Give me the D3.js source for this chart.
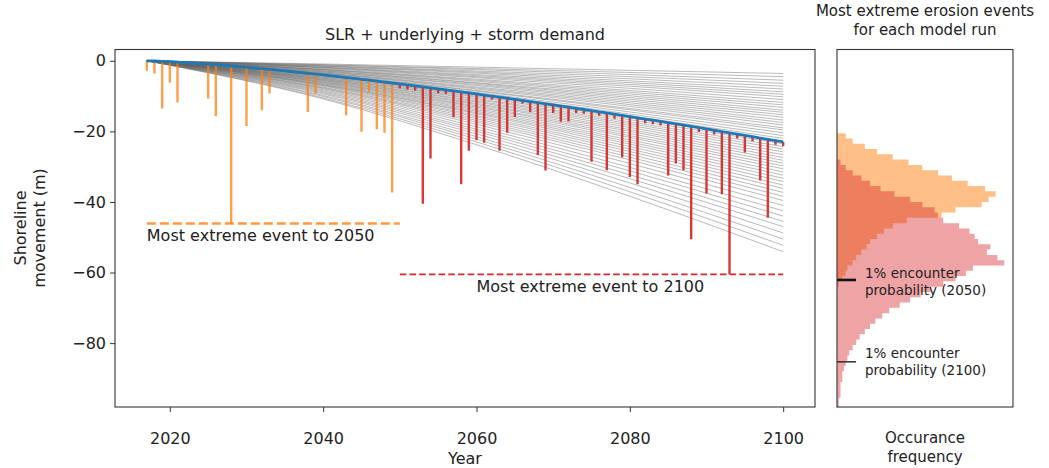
<!DOCTYPE html>
<html><head><meta charset="utf-8">
<script src="https://cdn.jsdelivr.net/npm/d3@7"></script>
<style>body{margin:0;background:#fff} svg{display:block} text{font-family:"DejaVu Sans",sans-serif;fill:#222}</style>
</head><body><svg id="c" width="1049" height="468"></svg>
<script>
// ---------------- data ----------------
const trendStartYear = 2017;
const trend = [0,-0.06,-0.14,-0.25,-0.37,-0.50,-0.65,-0.80,-0.95,-1.12,-1.29,-1.47,-1.66,-1.85,-2.04,-2.24,-2.45,-2.66,-2.88,-3.10,
  -3.32,-3.55,-3.78,-4.02,-4.26,-4.50,-4.75,-5.00,-5.25,-5.50,-5.76,-6.02,-6.29,-6.56,-6.83,-7.11,-7.39,-7.67,-7.95,-8.23,
  -8.52,-8.81,-9.10,-9.40,-9.70,-10.00,-10.30,-10.61,-10.92,-11.23,-11.54,-11.86,-12.18,-12.50,-12.82,-13.15,-13.47,-13.80,-14.13,-14.46,
  -14.79,-15.13,-15.47,-15.81,-16.15,-16.50,-16.84,-17.19,-17.54,-17.89,-18.25,-18.60,-18.96,-19.32,-19.68,-20.04,-20.41,-20.77,-21.14,-21.51,
  -21.88,-22.25,-22.62,-23.00];

const events2050Years  = [2017,2018,2019,2020,2021,2025,2026,2028,2030,2032,2033,2038,2039,2043,2045,2046,2047,2048,2049];
const events2050Bottom = [-2.8,-3.6,-13.5,-6.2,-11.8,-10.7,-15.7,-46.1,-18.5,-14.0,-9.3,-14.5,-9.3,-15.4,-20.1,-8.8,-19.4,-20.4,-37.3];

const events2100Years  = [2050,2051,2052,2053,2054,2055,2056,2057,2058,2059,2060,2061,2062,2063,2064,2065,2066,2067,2068,2069,
  2070,2071,2072,2073,2074,2075,2076,2077,2078,2079,2080,2081,2082,2083,2084,2085,2086,2087,2088,2089,
  2090,2091,2092,2093,2094,2095,2096,2097,2098,2099,2100];
const events2100Bottom = [-7.8,-8.1,-8.5,-40.5,-27.7,-9.2,-9.4,-16.0,-35.0,-25.5,-22.5,-23.2,-11.0,-25.5,-20.4,-15.9,-12.1,-14.5,-26.7,-31.1,
  -14.8,-17.3,-17.2,-14.8,-15.0,-28.6,-15.6,-31.0,-16.4,-27.4,-32.9,-35.0,-17.7,-18.0,-18.3,-32.5,-29.1,-31.0,-50.6,-20.2,
  -37.6,-20.9,-37.8,-60.5,-22.0,-26.0,-22.8,-33.9,-44.5,-23.8,-24.2];

const runYears = [2017,2040,2060,2080,2100];
const runs = [
  [0,-0.9,-1.8,-2.7,-3.6],[0,-1.1,-2.2,-3.3,-4.5],[0,-1.2,-2.5,-3.9,-5.5],[0,-1.4,-2.9,-4.5,-6.4],
  [0,-1.5,-3.2,-5.1,-7.2],[0,-1.6,-3.5,-5.7,-8.0],[0,-1.8,-3.9,-6.2,-8.8],[0,-1.9,-4.2,-6.7,-9.5],
  [0,-2.0,-4.5,-7.2,-10.2],[0,-2.2,-4.8,-7.8,-11.0],[0,-2.4,-5.2,-8.4,-11.8],[0,-2.5,-5.5,-8.9,-12.5],
  [0,-2.6,-5.8,-9.4,-13.2],[0,-2.8,-6.2,-9.9,-14.0],[0,-2.9,-6.4,-10.4,-14.6],[0,-3.1,-6.7,-10.9,-15.3],
  [0,-3.2,-7.0,-11.4,-16.0],[0,-3.4,-7.4,-11.9,-16.8],[0,-3.5,-7.7,-12.4,-17.5],[0,-3.6,-8.0,-12.9,-18.2],
  [0,-3.8,-8.4,-13.5,-19.0],[0,-3.9,-8.6,-13.9,-19.6],[0,-4.1,-9.0,-14.5,-20.4],[0,-4.2,-9.3,-15.1,-21.2],
  [0,-4.4,-9.7,-15.6,-22.0],[0,-4.6,-10.0,-16.2,-22.8],[0,-4.7,-10.3,-16.7,-23.5],[0,-4.9,-10.7,-17.3,-24.3],
  [0,-5.0,-11.0,-17.8,-25.0],[0,-5.2,-11.4,-18.3,-25.8],[0,-5.3,-11.7,-18.9,-26.6],[0,-5.5,-12.1,-19.5,-27.4],
  [0,-5.6,-12.4,-20.0,-28.2],[0,-5.8,-12.8,-20.6,-29.0],[0,-6.0,-13.1,-21.2,-29.8],[0,-6.1,-13.5,-21.7,-30.6],
  [0,-6.3,-13.9,-22.4,-31.5],[0,-6.5,-14.3,-23.0,-32.4],[0,-6.7,-14.7,-23.6,-33.3],[0,-6.8,-15.0,-24.3,-34.2],
  [0,-7.0,-15.5,-25.0,-35.2],[0,-7.2,-15.9,-25.7,-36.2],[0,-7.5,-16.4,-26.5,-37.3],[0,-7.7,-16.9,-27.3,-38.4],
  [0,-7.9,-17.4,-28.1,-39.6],[0,-8.2,-18.0,-29.1,-41.0],[0,-8.5,-18.7,-30.2,-42.5],[0,-8.8,-19.4,-31.2,-44.0],
  [0,-9.1,-20.0,-32.3,-45.5],[0,-9.4,-20.7,-33.4,-47.0],[0,-9.8,-21.5,-34.6,-48.8],[0,-10.1,-22.2,-35.9,-50.5],
  [0,-10.5,-23.0,-37.1,-52.3],[0,-10.8,-23.8,-38.4,-54.1]
];

const extreme2050 = -46.1, extreme2100 = -60.5;

const histBinWidth = 1.5;
const hist2050Top = -20.5;
const hist2050Counts = [5,9,16,23,32,41,49,58,66,75,85,91,87,83,68,60,40,32,27,23,19,17,14,11,9,6,5,3,1];
const hist2100Top = -28;
const hist2100Counts = [2,5,9,14,19,25,33,42,49,56,58,61,70,76,79,81,88,86,92,96,78,74,68,61,54,48,42,36,30,26,22,19,16,13,11,9,7,6,5,4,3,3,2,2,2,1,1];
const encounter2050 = -62.1, encounter2100 = -85.3;

const xTicks = [2020,2040,2060,2080,2100];
const yTicks = [0,-20,-40,-60,-80];

// ---------------- drawing ----------------
const svg = d3.select("#c");
const M = {l:115, r:815, t:49.5, b:407};
const Hs = {l:837, r:1013};

const x = d3.scaleLinear().domain([2012.85, 2104.15]).range([M.l, M.r]);
const y = d3.scaleLinear().domain([-98.1, 3.2]).range([M.b, M.t]);
const xH = d3.scaleLinear().domain([0, 101]).range([Hs.l, Hs.r]);

const defs = svg.append("defs");
defs.append("clipPath").attr("id","clipMain").append("rect")
  .attr("x",M.l).attr("y",M.t).attr("width",M.r-M.l).attr("height",M.b-M.t);
defs.append("clipPath").attr("id","clipHist").append("rect")
  .attr("x",Hs.l).attr("y",M.t).attr("width",Hs.r-Hs.l).attr("height",M.b-M.t);

const main = svg.append("g").attr("clip-path","url(#clipMain)");

// model runs
const runLine = d3.line().x((d,i)=>x(runYears[i])).y(d=>y(d)).curve(d3.curveMonotoneX);
main.append("g").selectAll("path").data(runs).join("path")
  .attr("d", runLine).attr("fill","none").attr("stroke","#666")
  .attr("stroke-width",0.9).attr("stroke-opacity",0.5);

// event spikes
const trendAt = yr => trend[yr - trendStartYear];
main.append("g").selectAll("line").data(events2050Years).join("line")
  .attr("x1",d=>x(d)).attr("x2",d=>x(d))
  .attr("y1",d=>y(trendAt(d))).attr("y2",(d,i)=>y(events2050Bottom[i]))
  .attr("stroke","#ff7f0e").attr("stroke-opacity",0.75).attr("stroke-width",2.4);
main.append("g").selectAll("line").data(events2100Years).join("line")
  .attr("x1",d=>x(d)).attr("x2",d=>x(d))
  .attr("y1",d=>y(trendAt(d))).attr("y2",(d,i)=>y(events2100Bottom[i]))
  .attr("stroke","#d62728").attr("stroke-opacity",0.92).attr("stroke-width",2.4);

// trend line
main.append("path").datum(trend)
  .attr("d", d3.line().x((d,i)=>x(trendStartYear+i)).y(d=>y(d)))
  .attr("fill","none").attr("stroke","#1f77b4").attr("stroke-width",2.8);

// extreme dashed lines
main.append("line").attr("x1",x(2017)).attr("x2",x(2050))
  .attr("y1",y(extreme2050)).attr("y2",y(extreme2050))
  .attr("stroke","#ff7f0e").attr("stroke-opacity",0.8).attr("stroke-width",2.6).attr("stroke-dasharray","9,4");
main.append("line").attr("x1",x(2050)).attr("x2",x(2100))
  .attr("y1",y(extreme2100)).attr("y2",y(extreme2100))
  .attr("stroke","#d62728").attr("stroke-width",1.8).attr("stroke-dasharray","6.5,3.2");

svg.append("text").attr("x",x(2017)).attr("y",240.5).attr("font-size",16).text("Most extreme event to 2050");
svg.append("text").attr("x",476.5).attr("y",291.5).attr("font-size",16).text("Most extreme event to 2100");

// axes main
const ax = svg.append("g").attr("transform",`translate(0,${M.b})`)
  .call(d3.axisBottom(x).tickValues(xTicks).tickFormat(d3.format("d")).tickSize(5).tickPadding(21));
const ay = svg.append("g").attr("transform",`translate(${M.l},0)`)
  .call(d3.axisLeft(y).tickValues(yTicks).tickSize(5).tickPadding(4));
[ax,ay].forEach(g=>{
  g.select(".domain").remove();
  g.selectAll(".tick line").attr("stroke","#333").attr("stroke-width",1);
  g.selectAll(".tick text").attr("font-size",16).attr("font-family","DejaVu Sans").attr("fill","#222");
});
svg.append("rect").attr("x",M.l).attr("y",M.t).attr("width",M.r-M.l).attr("height",M.b-M.t)
  .attr("fill","none").attr("stroke","#333").attr("stroke-width",1.1);

svg.append("text").attr("x",(M.l+M.r)/2).attr("y",40).attr("text-anchor","middle").attr("font-size",16)
  .text("SLR + underlying + storm demand");
svg.append("text").attr("x",(M.l+M.r)/2).attr("y",464).attr("text-anchor","middle").attr("font-size",16).text("Year");
const yl = svg.append("text").attr("transform","translate(0,228) rotate(-90)").attr("text-anchor","middle").attr("font-size",16);
yl.append("tspan").attr("x",0).attr("y",26).text("Shoreline");
yl.append("tspan").attr("x",0).attr("y",45).text("movement (m)");

// ---------------- histogram panel ----------------
const hist = svg.append("g").attr("clip-path","url(#clipHist)");
function histPath(top, counts){
  const p = d3.path();
  p.moveTo(xH(0), y(top));
  counts.forEach((c,i)=>{
    const y0 = top - i*histBinWidth, y1 = top - (i+1)*histBinWidth;
    p.lineTo(xH(c), y(y0));
    p.lineTo(xH(c), y(y1));
  });
  p.lineTo(xH(0), y(top - counts.length*histBinWidth));
  p.closePath();
  return p.toString();
}
hist.append("path").attr("d",histPath(hist2050Top,hist2050Counts)).attr("fill","#ff7f0e").attr("fill-opacity",0.5);
hist.append("path").attr("d",histPath(hist2100Top,hist2100Counts)).attr("fill","#d62728").attr("fill-opacity",0.42);

svg.append("line").attr("x1",Hs.l).attr("x2",Hs.l+19).attr("y1",y(encounter2050)).attr("y2",y(encounter2050))
  .attr("stroke","#111").attr("stroke-width",2.6);
svg.append("line").attr("x1",Hs.l).attr("x2",Hs.l+19).attr("y1",y(encounter2100)).attr("y2",y(encounter2100))
  .attr("stroke","#222").attr("stroke-width",1.4);

function label2(xp, yb, l1, l2){
  const t = svg.append("text").attr("font-size",13.5);
  t.append("tspan").attr("x",xp).attr("y",yb).text(l1);
  t.append("tspan").attr("x",xp).attr("y",yb+17).text(l2);
}
label2(865, 278, "1% encounter", "probability (2050)");
label2(865, 358, "1% encounter", "probability (2100)");

svg.append("rect").attr("x",Hs.l).attr("y",M.t).attr("width",Hs.r-Hs.l).attr("height",M.b-M.t)
  .attr("fill","none").attr("stroke","#333").attr("stroke-width",1.1);

const cx = (Hs.l+Hs.r)/2;
svg.append("text").attr("x",cx).attr("y",16).attr("text-anchor","middle").attr("font-size",15).text("Most extreme erosion events");
svg.append("text").attr("x",cx).attr("y",35).attr("text-anchor","middle").attr("font-size",15).text("for each model run");
svg.append("text").attr("x",cx).attr("y",443).attr("text-anchor","middle").attr("font-size",15).text("Occurance");
svg.append("text").attr("x",cx).attr("y",462).attr("text-anchor","middle").attr("font-size",15).text("frequency");
</script></body></html>
